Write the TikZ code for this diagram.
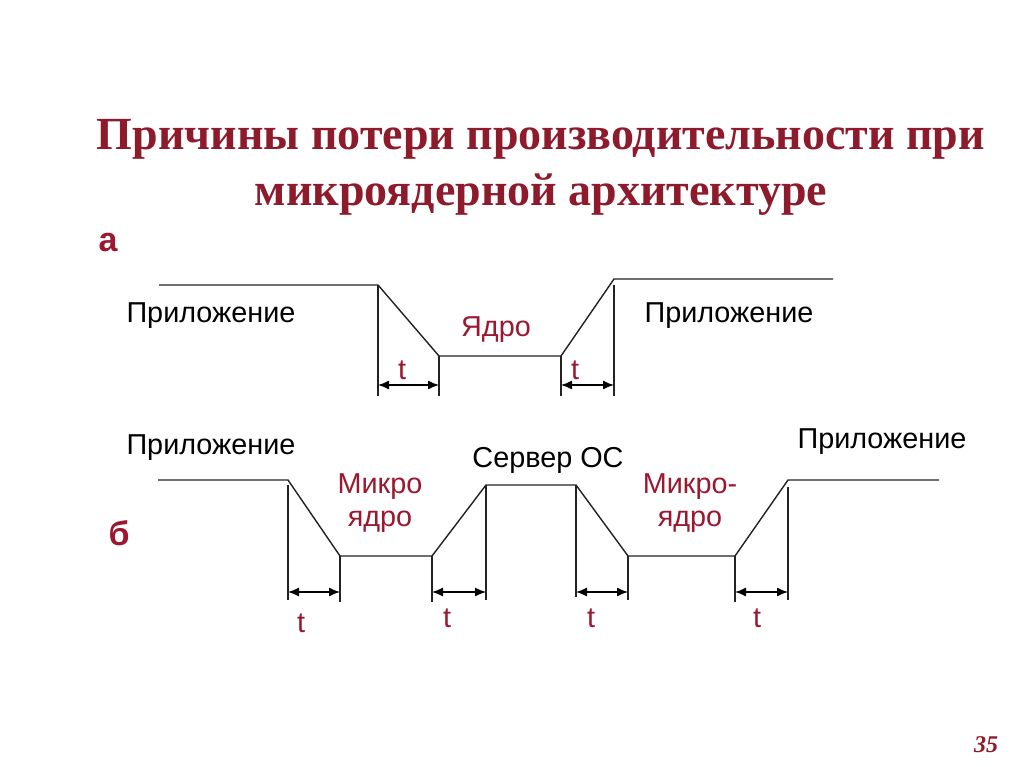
\documentclass[tikz,border=0pt]{standalone}
\usepackage{fontspec}
\setmainfont{Liberation Sans}
\newfontfamily\titlefont{Liberation Serif}
\usetikzlibrary{arrows.meta}
\definecolor{titlered}{HTML}{8E1B2C}
\definecolor{labred}{HTML}{9A1830}
\definecolor{linegray}{HTML}{222222}
\begin{document}
\begin{tikzpicture}[x=1pt,y=-1pt,
  wave/.style={draw=linegray,line width=1.4pt},
  tick/.style={draw=linegray,line width=1.2pt},
  dim/.style={draw=black,line width=1.3pt,{Latex[length=11pt,width=9pt]}-{Latex[length=11pt,width=9pt]}},
  lbl/.style={inner sep=0pt,font=\fontsize{28.8}{33}\selectfont,text=black},
  rlbl/.style={inner sep=0pt,font=\fontsize{28.8}{33}\selectfont,text=labred,align=center},
  tlbl/.style={inner sep=0pt,font=\fontsize{28.8}{33}\selectfont,text=labred},
  part/.style={inner sep=0pt,font=\bfseries\fontsize{34}{38}\selectfont,text=labred}]
\useasboundingbox (0,0) rectangle (1024,767);
\fill[white] (0,0) rectangle (1024,767);
% title
\node[inner sep=0pt,align=center,text=titlered,font=\titlefont\bfseries\fontsize{46}{56}\selectfont] (title) at (541,167)
  {Причины потери производительности при\\микроядерной архитектуре};
\node[part] (pa) at (108,243) {а};
\node[part] (pb) at (119,533) {б};
% ---- diagram a ----
\coordinate (a0) at (159,285);
\coordinate (a1) at (378,285);
\coordinate (a2) at (439,356);
\coordinate (a3) at (561,356);
\coordinate (a4) at (614,279);
\coordinate (a5) at (833,279);
\draw[wave] (a0) -- (a1) -- (a2) -- (a3) -- (a4) -- (a5);
\coordinate (a1b) at (378,396);
\coordinate (a2b) at (439,396);
\coordinate (a3b) at (561,396);
\coordinate (a4t) at (614,285);
\coordinate (a4b) at (614,396);
\draw[tick] (a1) -- (a1b);
\draw[tick] (a2) -- (a2b);
\draw[tick] (a3) -- (a3b);
\draw[tick] (a4t) -- (a4b);
\coordinate (da1) at (378,385);
\coordinate (da2) at (439,385);
\coordinate (da3) at (561,385);
\coordinate (da4) at (614,385);
\draw[dim] (da1) -- (da2);
\draw[dim] (da3) -- (da4);
\node[tlbl] (ta1) at (402,370) {t};
\node[tlbl] (ta2) at (575,370) {t};
\node[lbl] (appa1) at (211,316) {Приложение};
\node[lbl] (appa2) at (729,316) {Приложение};
\node[rlbl] (kern) at (496,330) {Ядро};
% ---- diagram b ----
\coordinate (b0) at (158,480);
\coordinate (b1) at (288,480);
\coordinate (b2) at (340,556);
\coordinate (b3) at (432,556);
\coordinate (b4) at (486,485);
\coordinate (b5) at (576,485);
\coordinate (b6) at (628,556);
\coordinate (b7) at (735,556);
\coordinate (b8) at (788,480);
\coordinate (b9) at (939,480);
\draw[wave] (b0) -- (b1) -- (b2) -- (b3) -- (b4) -- (b5) -- (b6) -- (b7) -- (b8) -- (b9);
\coordinate (b1t) at (288,485); \coordinate (b1b) at (288,600);
\coordinate (b2b) at (340,602);
\coordinate (b3b) at (432,602);
\coordinate (b4b) at (486,600);
\coordinate (b5b) at (576,597);
\coordinate (b6b) at (628,600);
\coordinate (b7b) at (735,602);
\coordinate (b8t) at (788,487); \coordinate (b8b) at (788,600);
\draw[tick] (b1t) -- (b1b);
\draw[tick] (b2) -- (b2b);
\draw[tick] (b3) -- (b3b);
\draw[tick] (b4) -- (b4b);
\draw[tick] (b5) -- (b5b);
\draw[tick] (b6) -- (b6b);
\draw[tick] (b7) -- (b7b);
\draw[tick] (b8t) -- (b8b);
\coordinate (db1) at (288,592); \coordinate (db2) at (340,592);
\coordinate (db3) at (432,592); \coordinate (db4) at (486,592);
\coordinate (db5) at (576,592); \coordinate (db6) at (628,592);
\coordinate (db7) at (735,592); \coordinate (db8) at (788,592);
\draw[dim] (db1) -- (db2);
\draw[dim] (db3) -- (db4);
\draw[dim] (db5) -- (db6);
\draw[dim] (db7) -- (db8);
\node[tlbl] (tb1) at (301,623) {t};
\node[tlbl] (tb2) at (447,618) {t};
\node[tlbl] (tb3) at (591,618) {t};
\node[tlbl] (tb4) at (757,618) {t};
\node[lbl] (appb1) at (211,448) {Приложение};
\node[lbl] (appb2) at (882,442) {Приложение};
\node[lbl] (srv) at (548,460) {Сервер ОС};
\node[rlbl] (mk1) at (380,503) {Микро\\ядро};
\node[rlbl] (mk2) at (690,503) {Микро-\\ядро};
% page number
\node[inner sep=0pt,text=titlered,font=\titlefont\bfseries\itshape\fontsize{24}{28}\selectfont] (pg) at (986,745) {35};
\end{tikzpicture}
\end{document}
